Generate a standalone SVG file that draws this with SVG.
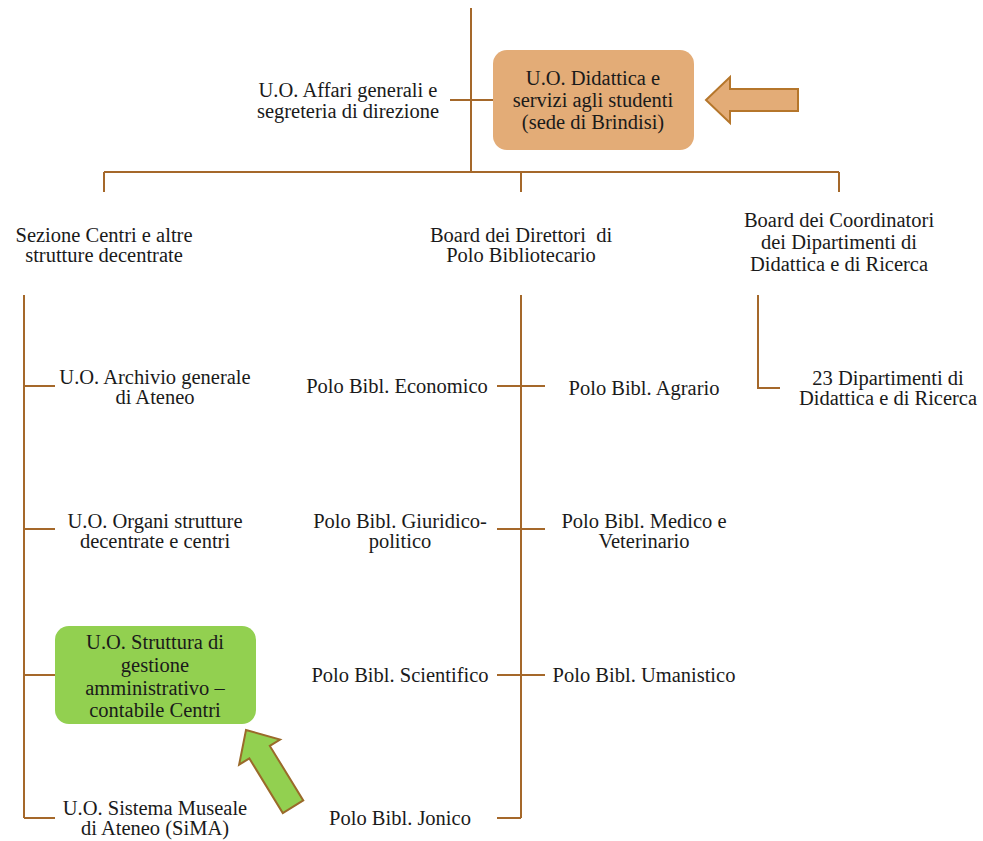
<svg xmlns="http://www.w3.org/2000/svg" width="983" height="841" viewBox="0 0 983 841">
<style>
text{font-family:"Liberation Serif","DejaVu Serif",serif;font-size:20.5px;fill:#1a1a1a;text-anchor:middle}
.ln{stroke:#A5682A;stroke-width:2;fill:none}
</style>
<rect width="983" height="841" fill="#fff"/>
<g id="connectors">
<path class="ln" d="M471,8 V172 M450,100 H493 M104,172 H839 M104,172 V192 M521,172 V192 M839,172 V192"/>
<path class="ln" d="M24,295 V818 M24,386 H55 M24,529 H55 M24,675 H55 M24,818 H55"/>
<path class="ln" d="M521,295 V818 M497,386 H545 M497,529 H545 M497,675 H545 M497,818 H521"/>
<path class="ln" d="M758,295 V388 H780"/>
</g>
<g id="n-affari"><text x="348" y="97">U.O. Affari generali e</text><text x="348" y="118">segreteria di direzione</text></g>
<g id="n-didattica"><rect x="493" y="50" width="201" height="100" rx="14" fill="#E3AC77"/>
<text x="593" y="85">U.O. Didattica e</text><text x="593" y="107">servizi agli studenti</text><text x="593" y="129">(sede di Brindisi)</text></g>
<g id="arrow-orange"><path d="M706,100 L730,77 L730,89 L798,89 L798,111 L730,111 L730,123 Z" fill="#E3AC77" stroke="#B5762B" stroke-width="2"/></g>
<g id="n-sezione"><text x="104" y="242">Sezione Centri e altre</text><text x="104" y="262">strutture decentrate</text></g>
<g id="n-board-dir"><text x="521" y="242" style="white-space:pre">Board dei Direttori  di</text><text x="521" y="262">Polo Bibliotecario</text></g>
<g id="n-board-coord"><text x="839" y="227">Board dei Coordinatori</text><text x="839" y="249">dei Dipartimenti di</text><text x="839" y="271">Didattica e di Ricerca</text></g>
<g id="n-archivio"><text x="155" y="384">U.O. Archivio generale</text><text x="155" y="404">di Ateneo</text></g>
<g id="n-organi"><text x="155" y="528">U.O. Organi strutture</text><text x="155" y="548">decentrate e centri</text></g>
<g id="n-sima-gest"><rect x="55" y="626" width="201" height="98" rx="14" fill="#92D050"/>
<text x="155" y="649">U.O. Struttura di</text><text x="155" y="672">gestione</text><text x="155" y="695">amministrativo –</text><text x="155" y="717">contabile Centri</text></g>
<g id="n-sima"><text x="155" y="815">U.O. Sistema Museale</text><text x="155" y="835">di Ateneo (SiMA)</text></g>
<g id="n-economico"><text x="397" y="393">Polo Bibl. Economico</text></g>
<g id="n-giuridico"><text x="400" y="528">Polo Bibl. Giuridico-</text><text x="400" y="548">politico</text></g>
<g id="n-scientifico"><text x="400" y="682">Polo Bibl. Scientifico</text></g>
<g id="n-jonico"><text x="400" y="825">Polo Bibl. Jonico</text></g>
<g id="n-agrario"><text x="644" y="395">Polo Bibl. Agrario</text></g>
<g id="n-medico"><text x="644" y="528">Polo Bibl. Medico e</text><text x="644" y="548">Veterinario</text></g>
<g id="n-umanistico"><text x="644" y="682">Polo Bibl. Umanistico</text></g>
<g id="n-dipartimenti"><text x="888" y="385">23 Dipartimenti di</text><text x="888" y="405">Didattica e di Ricerca</text></g>
<g id="arrow-green"><path transform="translate(246,730) rotate(58.5)" d="M0,0 L26,-24 L26,-12 L90,-12 L90,12 L26,12 L26,24 Z" fill="#92D050" stroke="#9A6A2A" stroke-width="2"/></g>
</svg>
